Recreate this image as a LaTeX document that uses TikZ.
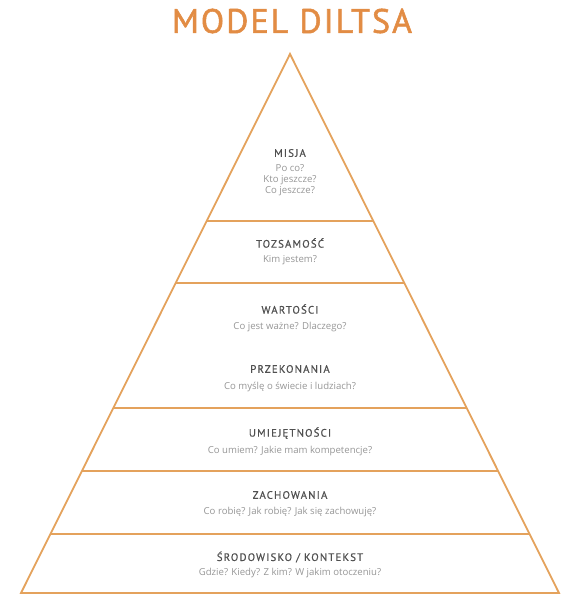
\documentclass[tikz,border=0pt]{standalone}
\usepackage{fontspec}
\setmainfont{Open Sans}
\newfontfamily\headfont[LetterSpace=11,FakeBold=0.6]{PT Sans}
\newfontfamily\titlefont[LetterSpace=6,FakeBold=1.6]{PT Sans}
\usepackage{tikz}
\usetikzlibrary{calc}
\definecolor{pyrorange}{RGB}{228,162,92}
\definecolor{titleorange}{RGB}{226,140,68}
\definecolor{headgrey}{RGB}{80,80,80}
\definecolor{askgrey}{RGB}{150,150,150}
\tikzstyle{head}=[inner sep=0pt, text=headgrey, font=\headfont\fontsize{10.8}{12}\selectfont]
\tikzstyle{ask}=[inner sep=0pt, text=askgrey, align=center, font=\fontsize{9.6}{11}\selectfont]
\tikzstyle{edge}=[draw=pyrorange, line width=1.8pt, line join=miter]
\newcommand{\level}[1]{\draw[edge] ($(apex)!#1!(bl)$) -- ($(apex)!#1!(br)$);}

\begin{document}
\begin{tikzpicture}[x=1pt, y=-1pt]
            \useasboundingbox (0,0) rectangle (585,600);
            \node[text=titleorange, font=\titlefont\fontsize{34}{36}\selectfont, inner sep=0pt] (title) at (292,21) {MODEL DILTSA};

            \coordinate (apex) at (290,54);
            \coordinate (bl) at (21,593);
            \coordinate (br) at (559,593);
            \draw[edge] (apex) -- (br) -- (bl) -- cycle;

            \level{0.3098}
            \level{0.4249}
            \level{0.6568}
            \level{0.7737}
            \level{0.8905}

            \node[head] (misja) at (290,153) {MISJA};
            \node[ask] (misjaq) at (290,180) {Po co?\\Kto jeszcze?\\Co jeszcze?};
            \node[head] (tozsamosc) at (290,243) {TOZSAMOŚĆ};
            \node[ask] (tozsamoscq) at (290,260) {Kim jestem?};
            \node[head] (wartosci) at (290,309) {WARTOŚCI};
            \node[ask] (wartosciq) at (290,327) {Co jest ważne? Dlaczego?};
            \node[head] (przekonania) at (290,369) {PRZEKONANIA};
            \node[ask] (przekonaniaq) at (290,387) {Co myślę o świecie i ludziach?};
            \node[head] (umiejetnosci) at (290,433) {UMIEJĘTNOŚCI};
            \node[ask] (umiejetnosciq) at (290,451) {Co umiem? Jakie mam kompetencje?};
            \node[head] (zachowania) at (290,495) {ZACHOWANIA};
            \node[ask] (zachowaniaq) at (290,512) {Co robię? Jak robię? Jak się zachowuję?};
            \node[head] (srodowisko) at (290,557) {ŚRODOWISKO / KONTEKST};
            \node[ask] (srodowiskoq) at (290,573) {Gdzie? Kiedy? Z kim? W jakim otoczeniu?};
        \end{tikzpicture}
\end{document}
